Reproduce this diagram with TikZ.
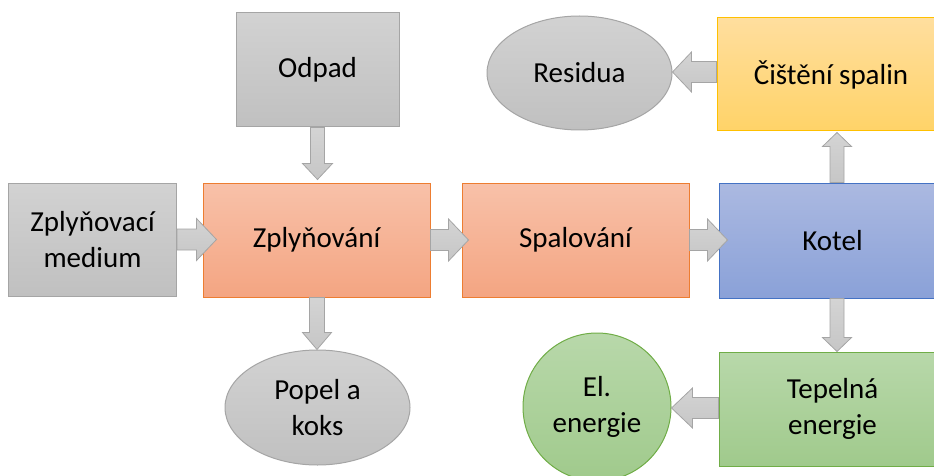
\documentclass[tikz,border=0pt]{standalone}
\usepackage{fontspec}
\setmainfont{Carlito}
\usetikzlibrary{shapes.geometric,calc}

\definecolor{grayTop}{HTML}{D2D2D2}
\definecolor{grayBot}{HTML}{C0C0C0}
\definecolor{grayLine}{HTML}{A5A5A5}
\definecolor{orangeTop}{HTML}{F8C1A9}
\definecolor{orangeBot}{HTML}{F4A582}
\definecolor{orangeLine}{HTML}{ED7D31}
\definecolor{blueTop}{HTML}{ABB9E1}
\definecolor{blueBot}{HTML}{8AA1D8}
\definecolor{blueLine}{HTML}{4472C4}
\definecolor{yellowTop}{HTML}{FFDE9E}
\definecolor{yellowBot}{HTML}{FFD368}
\definecolor{yellowLine}{HTML}{FFC000}
\definecolor{greenTop}{HTML}{B8D8AA}
\definecolor{greenBot}{HTML}{A0CA8C}
\definecolor{greenLine}{HTML}{70AD47}
\definecolor{arrowTop}{HTML}{D4D4D4}
\definecolor{arrowBot}{HTML}{C6C6C6}

\tikzset{
  label font/.style={font=\fontsize{29}{36}\selectfont, text=black, align=center},
  flowbox/.style={rectangle, label font, line width=1pt, inner sep=0pt,
    minimum width=227pt, minimum height=114pt},
  graybox/.style={flowbox, draw=grayLine, top color=grayTop, bottom color=grayBot},
  orangebox/.style={flowbox, draw=orangeLine, top color=orangeTop, bottom color=orangeBot},
  bluebox/.style={flowbox, draw=blueLine, top color=blueTop, bottom color=blueBot},
  yellowbox/.style={flowbox, draw=yellowLine, top color=yellowTop, bottom color=yellowBot},
  greenbox/.style={flowbox, draw=greenLine, top color=greenTop, bottom color=greenBot},
  grayoval/.style={ellipse, label font, line width=1pt, inner sep=0pt,
    draw=grayLine, top color=grayTop, bottom color=grayBot,
    minimum width=185pt, minimum height=114pt},
  greenround/.style={circle, label font, line width=1pt, inner sep=0pt,
    draw=greenLine, top color=greenTop, bottom color=greenBot,
    minimum size=148pt},
  arrowbody/.style={draw=grayLine, line width=0.8pt, line join=miter,
    top color=arrowTop, bottom color=arrowBot},
}

% block arrow: #1 half shaft width, #2 half head width, #3 head length,
% #4 start coordinate, #5 tip coordinate
\newcommand\blockarrow[5]{%
  \path[arrowbody] let \p1=#4, \p2=#5,
      \n1={atan2(\y2-\y1,\x2-\x1)}, \n2={veclen(\x2-\x1,\y2-\y1)} in
    [shift={(\p1)}, rotate=\n1]
    (0,-#1) -- (\n2-#3,-#1) -- (\n2-#3,-#2) -- (\n2,0) --
    (\n2-#3,#2) -- (\n2-#3,#1) -- (0,#1) -- cycle;}

\begin{document}
\begin{tikzpicture}[x=1pt,y=-1pt]
\useasboundingbox (0,0) rectangle (934,476);
\clip (0,0) rectangle (934,476);

% process boxes
\node[graybox, minimum width=163pt] (odpad) at (317.5,70) {Odpad};
\node[graybox, minimum width=168pt, minimum height=113pt] (medium) at (92.5,239.5) {Zplyňovací\\medium};
\node[orangebox] (zply) at (316.5,240) {Zplyňování};
\node[orangebox] (spal) at (575.5,240) {Spalování};
\node[bluebox, minimum height=115pt] (kotel) at (832.5,240.5) {Kotel};
\node[yellowbox, minimum width=228pt, minimum height=113pt] (cist) at (831,74.5) {Čištění spalin};
\node[greenbox] (tep) at (832.5,409) {Tepelná\\energie};

% products
\node[grayoval] (res) at (579.5,73) {Residua};
\node[grayoval, minimum height=115pt] (popel) at (317.5,407.5) {Popel a\\koks};
\node[greenround] (el) at (597,407) {El.\\energie};

% arrow start points
\coordinate (s1) at (odpad.south);
\coordinate (s2) at (medium.east);
\coordinate (s3) at (zply.east);
\coordinate (s4) at (spal.east);
\coordinate (s5) at ($(kotel.north)+(4.5,0)$);
\coordinate (s6) at ($(cist.west)+(0,-2.5)$);
\coordinate (s7) at ($(kotel.south)+(4.5,0)$);
\coordinate (s8) at ($(tep.west)+(0,-1)$);
\coordinate (s9) at ($(zply.south)+(0.5,0)$);

% arrows
\blockarrow{7}{15}{16}{(s1)}{($(s1 |- zply.north)+(0,-3)$)}
\blockarrow{10.5}{21}{20}{(s2)}{($(s2 -| zply.west)+(14,0)$)}
\blockarrow{10.5}{21}{20}{(s3)}{($(s3 -| spal.west)+(7,0)$)}
\blockarrow{10.5}{21}{20}{(s4)}{($(s4 -| kotel.west)+(9,0)$)}
\blockarrow{7}{14.5}{14}{(s5)}{($(s5 |- cist.south)+(0,1)$)}
\blockarrow{10.5}{20}{19}{(s6)}{(s6 -| res.east)}
\blockarrow{7}{14.5}{14}{(s7)}{(s7 |- tep.north)}
\blockarrow{10.5}{20}{21}{(s8)}{(s8 -| el.east)}
\blockarrow{7.5}{14.5}{17}{(s9)}{(s9 |- popel.north)}
\end{tikzpicture}
\end{document}
